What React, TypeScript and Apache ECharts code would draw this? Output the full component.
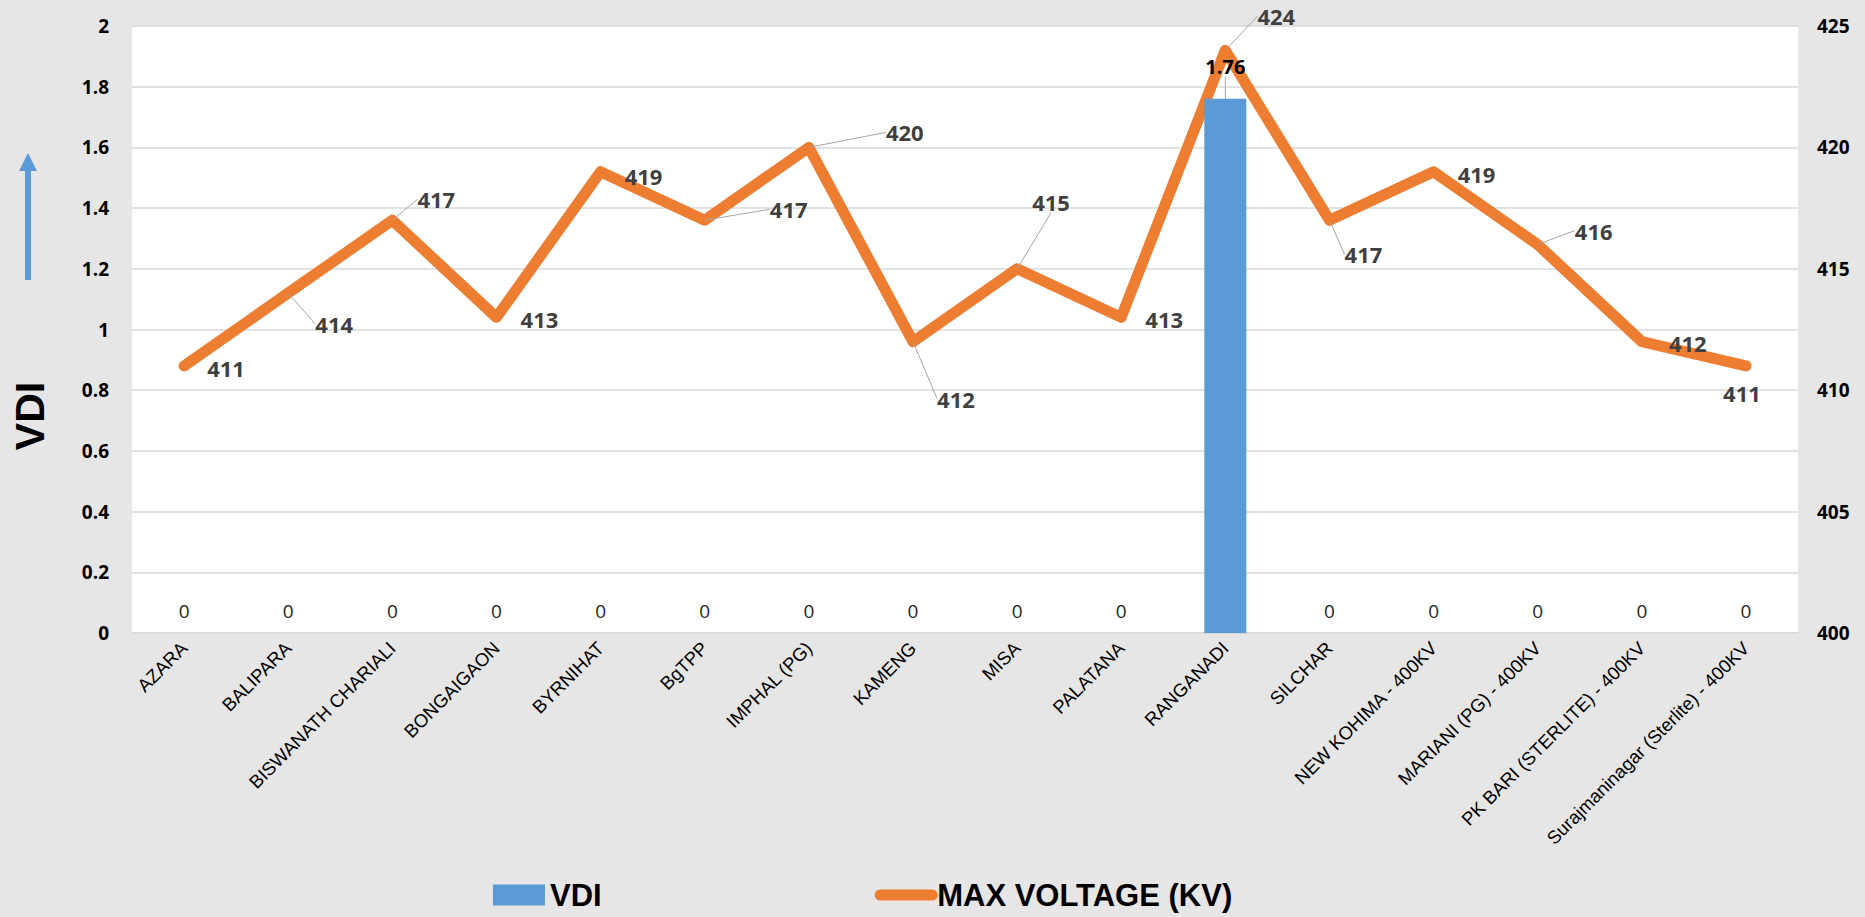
import React, { useEffect, useRef } from "react";
import * as echarts from "echarts";

const categories = [
  "AZARA",
  "BALIPARA",
  "BISWANATH CHARIALI",
  "BONGAIGAON",
  "BYRNIHAT",
  "BgTPP",
  "IMPHAL (PG)",
  "KAMENG",
  "MISA",
  "PALATANA",
  "RANGANADI",
  "SILCHAR",
  "NEW KOHIMA - 400KV",
  "MARIANI (PG) - 400KV",
  "PK BARI (STERLITE) - 400KV",
  "Surajmaninagar (Sterlite) - 400KV",
];
const vdiValues = [0, 0, 0, 0, 0, 0, 0, 0, 0, 0, 1.76, 0, 0, 0, 0, 0];
const maxVoltageValues = [411, 414, 417, 413, 419, 417, 420, 412, 415, 413, 424, 417, 419, 416, 412, 411];

const leftAxis = { min: 0, max: 2, interval: 0.2 };
const rightAxis = { min: 400, max: 425, interval: 5 };

// label styling (offsets of the voltage labels from their points, and which have leader lines)
const voltageLabelOffsets = [
  [42, 2], [46, 31], [44, -21], [43, 2], [43, 4], [84, -11], [96, -15], [43, 57],
  [34, -67], [43, 2], [51, -34], [34, 34], [43, 2], [56, -14], [46, 1], [-4, 27],
];
const voltageLeaderIdx = [1, 2, 5, 6, 7, 8, 10, 11, 13];

const BLUE = "#5B9BD5";
const ORANGE = "#ED7D31";

export default function App() {
  const ref = useRef<HTMLDivElement>(null);
  useEffect(() => {
    if (!ref.current) return;
    document.body.style.margin = "0";
    const chart = echarts.init(ref.current, undefined, { renderer: "svg" });
    const peakIdx = vdiValues.indexOf(Math.max(...vdiValues));
    chart.setOption({
      animation: false,
      backgroundColor: "#E7E6E6",
      grid: {
        left: 132,
        right: 67,
        top: 26,
        bottom: 284,
        show: true,
        backgroundColor: "#FFFFFF",
        borderWidth: 0,
      },
      legend: {
        left: 493,
        top: 879,
        padding: 0,
        itemWidth: 52,
        itemHeight: 21,
        itemGap: 273,
        textStyle: {
          fontFamily: "Liberation Sans",
          fontWeight: "bold",
          fontSize: 31,
          lineHeight: 32,
          color: "#000",
        },
        lineStyle: { width: 11, cap: "round" },
        data: [
          { name: "VDI", icon: "rect" },
          { name: "MAX VOLTAGE (KV)", itemStyle: { opacity: 0 } },
        ],
      },
      xAxis: {
        type: "category",
        data: categories,
        axisLine: { show: true, lineStyle: { color: "#D9D9D9", width: 1.5 } },
        axisTick: { show: false },
        axisLabel: {
          rotate: 45,
          interval: 0,
          margin: 12,
          fontFamily: "Liberation Sans",
          fontSize: 18.5,
          color: "#000",
        },
      },
      yAxis: [
        {
          type: "value",
          min: leftAxis.min,
          max: leftAxis.max,
          interval: leftAxis.interval,
          axisLine: { show: false },
          axisTick: { show: false },
          splitLine: { lineStyle: { color: "#D9D9D9", width: 1.5 } },
          axisLabel: {
            margin: 23,
            fontFamily: "Open Sans",
            fontWeight: "bold",
            fontSize: 19,
            color: "#000",
          },
        },
        {
          type: "value",
          min: rightAxis.min,
          max: rightAxis.max,
          interval: rightAxis.interval,
          axisLine: { show: false },
          axisTick: { show: false },
          splitLine: { show: false },
          axisLabel: {
            margin: 19,
            fontFamily: "Open Sans",
            fontWeight: "bold",
            fontSize: 19,
            color: "#000",
          },
        },
      ],
      graphic: [
        {
          type: "rect",
          shape: { x: 25, y: 168, width: 6, height: 112 },
          style: { fill: BLUE },
        },
        {
          type: "polygon",
          shape: { points: [[19, 171], [37, 171], [28, 153]] },
          style: { fill: BLUE },
        },
        {
          type: "text",
          x: 30,
          y: 416,
          rotation: Math.PI / 2,
          style: {
            text: "VDI",
            fontFamily: "Liberation Sans",
            fontWeight: "bold",
            fontSize: 41,
            fill: "#000",
            align: "center",
            verticalAlign: "middle",
          },
        },
      ],
      series: [
        {
          name: "VDI",
          type: "bar",
          yAxisIndex: 0,
          barWidth: 42,
          z: 4,
          itemStyle: { color: BLUE },
          label: {
            show: true,
            position: "top",
            distance: 13,
            fontFamily: "Open Sans",
            fontSize: 19,
            color: "#262626",
          },
          labelLine: { show: false, lineStyle: { color: "#A6A6A6", width: 1 } },
          labelLayout: (p: any) => (p.dataIndex === peakIdx ? { dy: -9 } : {}),
          data: vdiValues.map((v, i) =>
            i === peakIdx
              ? {
                  value: v,
                  label: { fontWeight: "bold", fontSize: 20, color: "#000" },
                  labelLine: { show: true },
                }
              : { value: v }
          ),
        },
        {
          name: "MAX VOLTAGE (KV)",
          type: "line",
          yAxisIndex: 1,
          z: 3,
          symbol: "circle",
          symbolSize: 2,
          itemStyle: { color: ORANGE },
          lineStyle: { color: ORANGE, width: 11, cap: "round", join: "round" },
          label: {
            show: true,
            position: "inside",
            fontFamily: "Open Sans",
            fontWeight: "bold",
            fontSize: 22,
            color: "#404040",
          },
          labelLine: { show: false, lineStyle: { color: "#A6A6A6", width: 1 } },
          labelLayout: (p: any) => ({
            dx: voltageLabelOffsets[p.dataIndex][0],
            dy: voltageLabelOffsets[p.dataIndex][1],
          }),
          data: maxVoltageValues.map((v, i) => ({
            value: v,
            labelLine: { show: voltageLeaderIdx.includes(i) },
          })),
        },
      ],
    });
    return () => chart.dispose();
  }, []);
  return (
    <div
      ref={ref}
      style={{ position: "fixed", left: 0, top: 0, width: 1865, height: 917 }}
    />
  );
}
